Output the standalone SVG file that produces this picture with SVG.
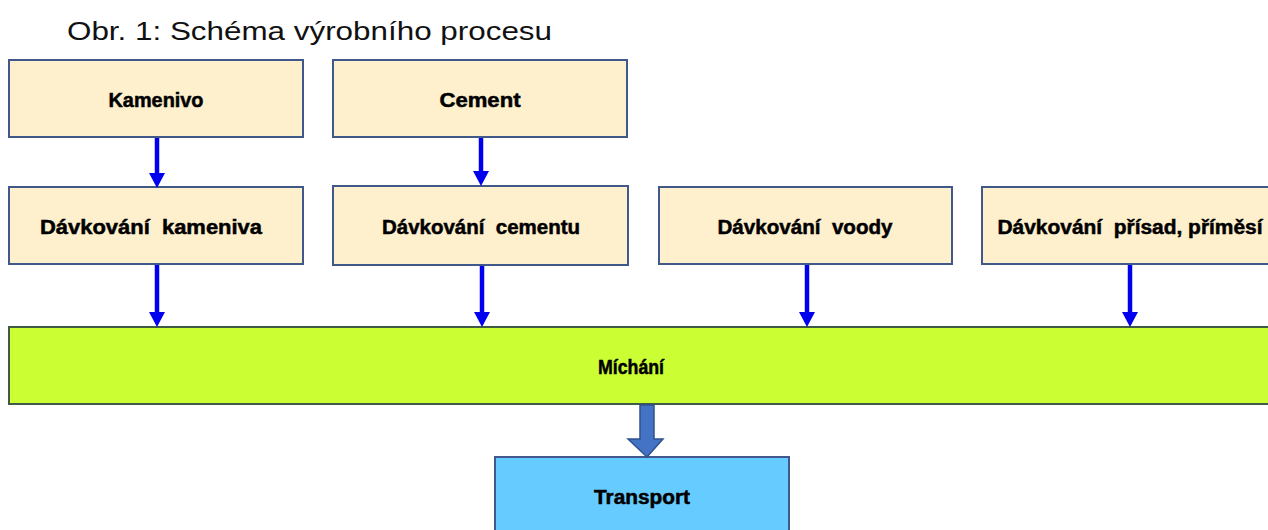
<svg xmlns="http://www.w3.org/2000/svg" width="1268" height="530" viewBox="0 0 1268 530">
  <style>
    .box { fill: #FEF0CD; stroke: #41588A; stroke-width: 2; }
    .mix { fill: #CCFF33; stroke: #3F5A45; stroke-width: 2; }
    .out { fill: #66CCFF; stroke: #41588A; stroke-width: 2; }
    .lbl { font-family: "Liberation Sans", Arial, sans-serif; font-weight: bold; font-size: 20px; fill: #000; stroke: #000; stroke-width: 0.5; text-anchor: middle; white-space: pre; }
    .title { font-family: "Liberation Sans", Arial, sans-serif; font-size: 26px; fill: #111; }
    .flow { stroke: #0000EE; stroke-width: 4.5; fill: none; }
    .head { fill: #0000EE; }
  </style>

  <rect width="1268" height="530" fill="#FFFFFF"/>

  <text class="title" x="67" y="40" textLength="485" lengthAdjust="spacingAndGlyphs">Obr. 1: Schéma výrobního procesu</text>

  <!-- raw materials -->
  <g id="kamenivo">
    <rect class="box" x="9" y="60" width="294" height="77"/>
    <text class="lbl" x="156" y="107" textLength="95" lengthAdjust="spacingAndGlyphs">Kamenivo</text>
  </g>
  <g id="cement">
    <rect class="box" x="333" y="60" width="294" height="77"/>
    <text class="lbl" x="480" y="107" textLength="81" lengthAdjust="spacingAndGlyphs">Cement</text>
  </g>

  <!-- dosing stations -->
  <g id="davkovani-kameniva">
    <rect class="box" x="9" y="187" width="294" height="77"/>
    <text class="lbl" x="151" y="234" textLength="222" lengthAdjust="spacingAndGlyphs" xml:space="preserve">Dávkování  kameniva</text>
  </g>
  <g id="davkovani-cementu">
    <rect class="box" x="333" y="186" width="295" height="79"/>
    <text class="lbl" x="481" y="234" textLength="198" lengthAdjust="spacingAndGlyphs" xml:space="preserve">Dávkování  cementu</text>
  </g>
  <g id="davkovani-vody">
    <rect class="box" x="659" y="187" width="293" height="77"/>
    <text class="lbl" x="805" y="234" textLength="175" lengthAdjust="spacingAndGlyphs" xml:space="preserve">Dávkování  voody</text>
  </g>
  <g id="davkovani-prisad">
    <rect class="box" x="982" y="187" width="300" height="77"/>
    <text class="lbl" x="1130" y="234" textLength="265" lengthAdjust="spacingAndGlyphs" xml:space="preserve">Dávkování  přísad, příměsí</text>
  </g>

  <!-- mixing -->
  <g id="michani">
    <rect class="mix" x="9" y="327" width="1280" height="77"/>
    <text class="lbl" x="631" y="374" textLength="66" lengthAdjust="spacingAndGlyphs">Míchání</text>
  </g>

  <!-- output -->
  <g id="transport">
    <rect class="out" x="495" y="457" width="294" height="90"/>
    <text class="lbl" x="642" y="504" textLength="96" lengthAdjust="spacingAndGlyphs">Transport</text>
  </g>

  <!-- connectors -->
  <g id="connectors">
    <line class="flow" x1="157" y1="138" x2="157" y2="174"/>
    <polygon class="head" points="149,173 165,173 157,188"/>
    <line class="flow" x1="481" y1="138" x2="481" y2="172"/>
    <polygon class="head" points="473,171 489,171 481,186"/>

    <line class="flow" x1="157" y1="265" x2="157" y2="313"/>
    <polygon class="head" points="149,312 165,312 157,327"/>
    <line class="flow" x1="482" y1="266" x2="482" y2="313"/>
    <polygon class="head" points="474,312 490,312 482,327"/>
    <line class="flow" x1="807" y1="265" x2="807" y2="313"/>
    <polygon class="head" points="799,312 815,312 807,327"/>
    <line class="flow" x1="1130" y1="265" x2="1130" y2="313"/>
    <polygon class="head" points="1122,312 1138,312 1130,327"/>

    <polygon points="640,405 654,405 654,439 663,439 647,457 628,439 640,439" fill="#4472C4" stroke="#2F528F" stroke-width="1.5"/>
  </g>
</svg>
